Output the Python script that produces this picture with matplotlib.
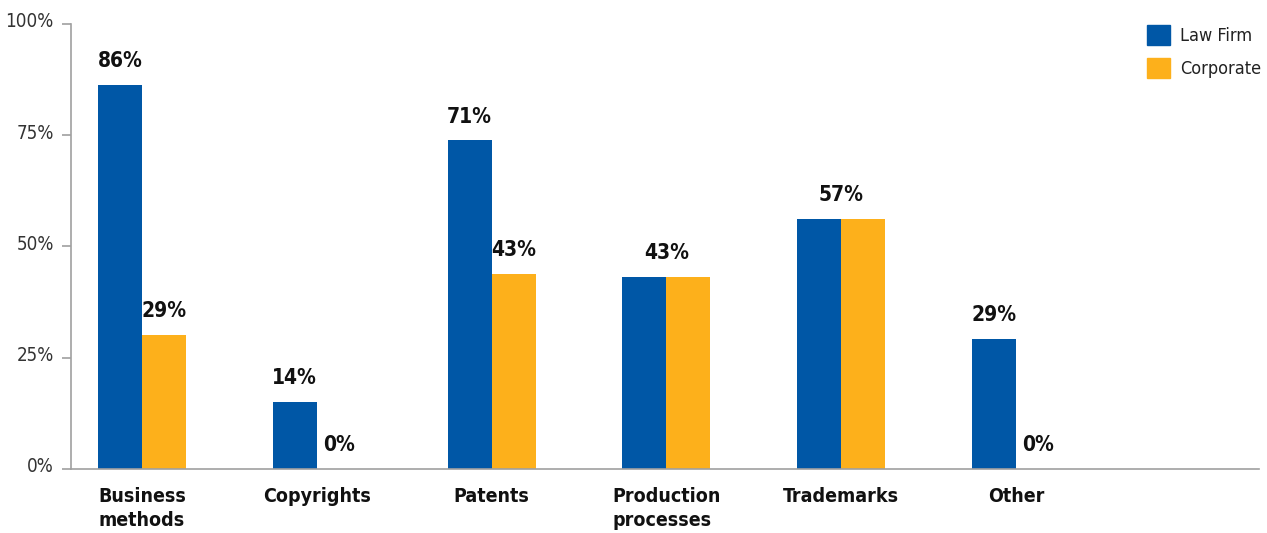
import numpy as np
import matplotlib
matplotlib.use("Agg")
import matplotlib.pyplot as plt
from matplotlib.transforms import ScaledTranslation
from matplotlib.patches import Patch

# data
categories = ["Business\nmethods", "Copyrights", "Patents", "Production\nprocesses", "Trademarks", "Other"]
law_firm = [86.3, 15.1, 73.9, 43.2, 56.2, 29.2]
corporate = [30.1, 0.0, 43.8, 43.2, 56.2, 0.0]
law_firm_labels = ["86%", "14%", "71%", "43%", "57%", "29%"]
corporate_labels = ["29%", "0%", "43%", "43%", "57%", "0%"]
yticks = [0, 25, 50, 75, 100]

blue = "#0057a6"
orange = "#fdb01b"
grey = "#a0a0a0"
plt.rcParams["font.family"] = ["DejaVu Sans"]
plt.rcParams["font.stretch"] = "condensed"

fig = plt.figure(figsize=(12.67, 5.33), dpi=100)
ax = fig.add_axes([71 / 1267, 64 / 533, (1259 - 71) / 1267, (469 - 24) / 533])

x = np.arange(len(categories))
w = 0.252
ax.bar(x - w / 2, law_firm, w, color=blue, linewidth=0)
ax.bar(x + w / 2, corporate, w, color=orange, linewidth=0)

# value labels; one centred label when both series agree
lab_kw = dict(xytext=(0, 17), textcoords="offset points", ha="center", va="center",
              fontsize=15, fontweight="bold", color="#111111")
for i in range(len(categories)):
    if law_firm_labels[i] == corporate_labels[i]:
        ax.annotate(law_firm_labels[i], (x[i], max(law_firm[i], corporate[i])), **lab_kw)
    else:
        ax.annotate(law_firm_labels[i], (x[i] - w / 2, law_firm[i]), **lab_kw)
        ax.annotate(corporate_labels[i], (x[i] + w / 2, corporate[i]), **lab_kw)

ax.set_xlim((71 - 142) / 174.8, (1259 - 142) / 174.8)
ax.set_ylim(0, 100)
ax.set_yticks(yticks)
ax.set_yticklabels([f"{t}%" for t in yticks], fontsize=13.5, color="#333333")
ax.tick_params(axis="y", length=6.5, width=1.2, color=grey, pad=6)
for lab in ax.get_yticklabels():
    lab.set_transform(lab.get_transform() + ScaledTranslation(0, 0.04, fig.dpi_scale_trans))

ax.set_xticks(x)
ax.set_xticklabels(categories, fontsize=14, fontweight="bold", color="#111111", linespacing=1.3)
for lab in ax.get_xticklabels():
    lab.set_multialignment("left")
ax.tick_params(axis="x", length=0, pad=13)

for s in ["top", "right"]:
    ax.spines[s].set_visible(False)
for s in ["left", "bottom"]:
    ax.spines[s].set_color(grey)
    ax.spines[s].set_linewidth(1.2)

handles = [Patch(color=blue, label="Law Firm"), Patch(color=orange, label="Corporate")]
fig.legend(handles=handles, loc="upper left", bbox_to_anchor=(1147 / 1267, 1 - 25 / 533),
           frameon=False, fontsize=13, handlelength=1.3, handleheight=1.3,
           handletextpad=0.55, labelspacing=0.75, labelcolor="#222222",
           borderpad=0, borderaxespad=0)

fig.savefig("out.png", dpi=100)
